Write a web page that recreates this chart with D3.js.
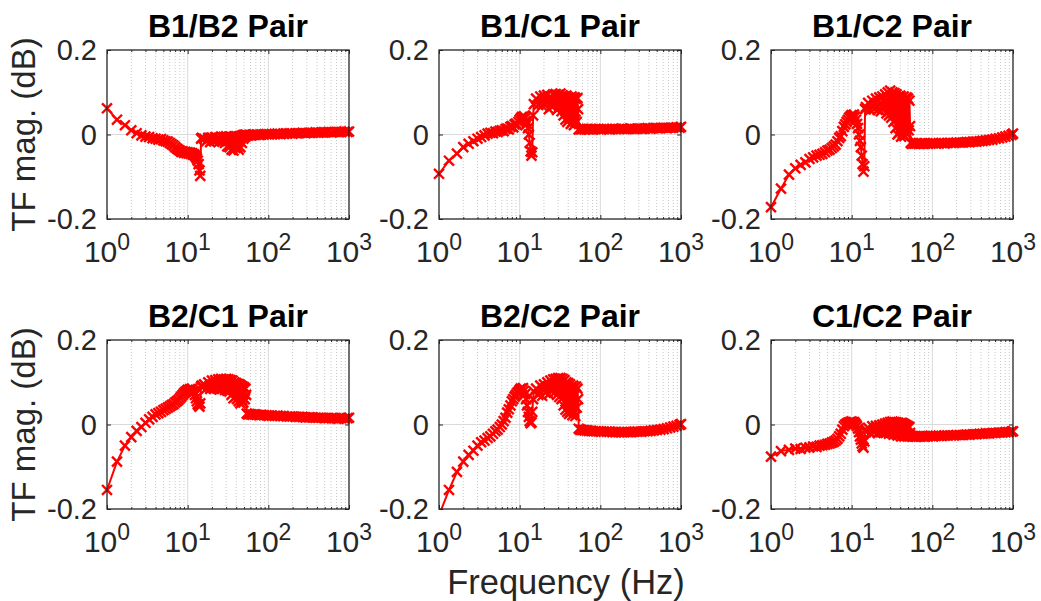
<!DOCTYPE html>
<html><head><meta charset="utf-8">
<script src="https://cdn.jsdelivr.net/npm/d3@7"></script>
<style>
body{margin:0;background:#fff}
svg{display:block}
text{font-family:"Liberation Sans",Arial,Helvetica,sans-serif}
</style>
</head><body>
<svg id="chart" width="1041" height="601"></svg>
<script>
// ---------------- data ----------------
const freqHz = [
  1,1.33,1.67,2,2.33,2.67,3,3.33,3.67,4,4.33,4.67,5,5.33,5.67,6,6.33,6.67,7,7.33,7.67,
  8,8.33,8.67,9,9.33,9.67,10,10.33,10.67,11,11.33,11.67,12,12.33,12.67,13,13.33,13.67,14,14.33,14.67,15,
  16,17,18,19,20,21,22,23,24,25,26,27,28,29,30,31,32,33,34,35,36,37,38,39,40,41,42,43,44,45,46,47,48,49,50,51,52,53,
  54,56,58,61,64,68,72,77,82,88,95,102,110,120,130,142,155,170,185,200,220,240,265,290,320,350,385,420,460,505,555,610,670,735,805,880,960,1000
];

const pairTitles = ["B1/B2 Pair","B1/C1 Pair","B1/C2 Pair","B2/C1 Pair","B2/C2 Pair","C1/C2 Pair"];

const magB1B2 = [
  0.062,0.035,0.022, 0.010,0.003,-0.002, -0.005,-0.006,-0.009, -0.010,-0.012,-0.011, -0.014,-0.016,-0.017,
  -0.020,-0.023,-0.026, -0.030,-0.033,-0.036, -0.038,-0.041,-0.040, -0.043,-0.041,-0.044, -0.042,-0.045,-0.043,
  -0.046,-0.044,-0.048, -0.047,-0.050,-0.053, -0.057,-0.062,-0.070, -0.085,-0.098,-0.010, -0.008,
  -0.010,-0.016,-0.008,-0.018,-0.007,-0.015,-0.006,-0.014,-0.008,-0.016,-0.005,-0.017,-0.006,-0.020,-0.004,-0.028,
  -0.006,-0.030,-0.005,-0.036,-0.008,-0.038,-0.006,-0.032,-0.004,-0.030,-0.006,-0.036,-0.004,-0.030,-0.003,-0.020,
  -0.002,-0.010,-0.001,-0.006,0.000,-0.003,
  -0.002,-0.002,-0.001,-0.002,-0.001,-0.001,0.000,-0.001,0.000,0.000,0.001,0.000,0.001,0.001,0.002,0.001,0.002,0.002,
  0.003,0.002,0.003,0.003,0.004,0.003,0.004,0.004,0.005,0.004,0.005,0.005,0.006,0.005,0.006,0.006,0.006,0.007,0.006,0.007
];
const magB1C1 = [
  -0.093,-0.062,-0.045, -0.030,-0.022,-0.016, -0.010,-0.006,-0.002, 0.002,0.004,0.003, 0.007,0.006,0.009,
  0.010,0.008,0.013, 0.014,0.012,0.018, 0.020,0.017,0.024, 0.026,0.022,0.030, 0.035,0.038,0.042,
  0.040,0.043,0.038, 0.032,0.025,0.015, 0.000,-0.020,-0.040, -0.050,-0.042,0.045, 0.072,
  0.085,0.070,0.090,0.068,0.092,0.072,0.094,0.060,0.090,0.066,0.095,0.070,0.096,0.058,0.094,0.065,
  0.097,0.055,0.093,0.045,0.090,0.035,0.092,0.030,0.088,0.040,0.085,0.025,0.090,0.030,0.086,0.022,
  0.088,0.035,0.084,0.030,0.086,0.060,
  0.012,0.013,0.012,0.013,0.012,0.013,0.012,0.013,0.012,0.013,0.013,0.012,0.013,0.013,0.012,0.013,0.013,0.013,
  0.014,0.013,0.013,0.014,0.013,0.014,0.014,0.014,0.015,0.014,0.015,0.015,0.015,0.016,0.015,0.016,0.016,0.017,0.016,0.018
];
const magB1C2 = [
  -0.172,-0.128,-0.095, -0.080,-0.072,-0.066, -0.058,-0.054,-0.050, -0.048,-0.046,-0.042, -0.038,-0.036,-0.032,
  -0.028,-0.024,-0.016, -0.008,-0.004,0.008, 0.018,0.024,0.030, 0.035,0.040,0.043, 0.046,0.044,0.047,
  0.042,0.035,0.025, 0.015,0.000,-0.015, -0.030,-0.050,-0.070, -0.088,-0.075,0.060, 0.065,
  0.075,0.058,0.080,0.060,0.085,0.058,0.088,0.055,0.090,0.062,0.095,0.050,0.100,0.045,0.104,0.040,
  0.100,0.030,0.098,0.015,0.095,0.000,0.090,0.005,0.092,-0.005,0.088,0.002,0.090,-0.004,0.085,0.005,
  0.088,0.000,0.085,0.010,0.080,0.020,
  -0.020,-0.022,-0.021,-0.022,-0.021,-0.022,-0.021,-0.022,-0.021,-0.022,-0.021,-0.021,-0.021,-0.021,-0.020,-0.021,-0.020,-0.020,
  -0.020,-0.019,-0.019,-0.019,-0.018,-0.018,-0.017,-0.017,-0.016,-0.015,-0.014,-0.013,-0.012,-0.010,-0.009,-0.007,-0.005,-0.003,-0.001,0.002
];
const magB2C1 = [
  -0.155,-0.088,-0.050, -0.030,-0.015,-0.006, 0.004,0.012,0.018, 0.024,0.027,0.030, 0.034,0.037,0.040,
  0.043,0.046,0.048, 0.052,0.055,0.058, 0.062,0.066,0.070, 0.074,0.077,0.079, 0.082,0.080,0.084,
  0.082,0.085,0.080, 0.078,0.070,0.062, 0.055,0.048,0.045, 0.042,0.050,0.090, 0.092,
  0.095,0.085,0.100,0.084,0.104,0.085,0.105,0.086,0.107,0.083,0.108,0.085,0.107,0.082,0.108,0.080,
  0.107,0.078,0.105,0.070,0.104,0.062,0.100,0.065,0.098,0.060,0.096,0.055,0.095,0.050,0.092,0.056,
  0.090,0.052,0.088,0.060,0.085,0.070,
  0.026,0.024,0.025,0.024,0.023,0.024,0.023,0.022,0.023,0.022,0.022,0.021,0.021,0.020,0.021,0.020,0.020,0.019,
  0.019,0.019,0.018,0.018,0.018,0.017,0.017,0.017,0.016,0.016,0.016,0.015,0.015,0.015,0.015,0.014,0.015,0.014,0.015,0.016
];
const magB2C2 = [
  -0.215,-0.155,-0.112, -0.088,-0.072,-0.062, -0.050,-0.042,-0.038, -0.032,-0.028,-0.022, -0.016,-0.012,-0.006,
  0.000,0.008,0.016, 0.028,0.036,0.045, 0.055,0.060,0.066, 0.070,0.075,0.078, 0.082,0.085,0.083,
  0.086,0.080,0.072, 0.060,0.045,0.030, 0.018,0.008,0.003, 0.005,0.030,0.060, 0.078,
  0.085,0.070,0.092,0.068,0.095,0.075,0.100,0.072,0.104,0.078,0.107,0.075,0.108,0.070,0.110,0.065,
  0.110,0.060,0.108,0.045,0.105,0.035,0.100,0.030,0.098,0.025,0.095,0.030,0.090,0.022,0.092,0.030,
  0.088,0.020,0.090,0.040,0.085,0.060,
  -0.010,-0.012,-0.013,-0.013,-0.014,-0.014,-0.015,-0.015,-0.016,-0.016,-0.016,-0.017,-0.017,-0.017,-0.017,-0.018,-0.018,-0.018,
  -0.018,-0.018,-0.018,-0.018,-0.017,-0.017,-0.017,-0.016,-0.016,-0.015,-0.014,-0.013,-0.012,-0.011,-0.009,-0.007,-0.005,-0.003,-0.001,0.001
];
const magC1C2 = [
  -0.076,-0.063,-0.060, -0.057,-0.058,-0.055, -0.054,-0.052,-0.053, -0.050,-0.049,-0.048, -0.046,-0.045,-0.043,
  -0.041,-0.038,-0.034, -0.028,-0.022,-0.012, -0.004,0.000,0.002, 0.004,0.005,0.006, 0.007,0.005,0.006,
  0.003,0.000,-0.004, -0.010,-0.018,-0.028, -0.036,-0.045,-0.052, -0.055,-0.040,-0.015, -0.012,
  -0.008,-0.020,-0.004,-0.018,-0.003,-0.020,-0.002,-0.018,0.000,-0.020,0.002,-0.018,0.004,-0.022,0.006,-0.020,
  0.007,-0.024,0.006,-0.022,0.005,-0.026,0.004,-0.024,0.003,-0.028,0.004,-0.025,0.002,-0.028,0.000,-0.026,
  -0.002,-0.028,-0.004,-0.026,-0.006,-0.020,
  -0.027,-0.028,-0.028,-0.028,-0.029,-0.028,-0.028,-0.028,-0.028,-0.028,-0.027,-0.028,-0.027,-0.027,-0.027,-0.026,-0.026,-0.026,
  -0.026,-0.025,-0.025,-0.025,-0.024,-0.024,-0.023,-0.023,-0.022,-0.022,-0.021,-0.021,-0.020,-0.020,-0.019,-0.019,-0.018,-0.018,-0.017,-0.016
];

const seriesList = [magB1B2, magB1C1, magB1C2, magB2C1, magB2C2, magC1C2];

const yTicks = [-0.2, 0, 0.2];
const yTickLabels = ["-0.2", "0", "0.2"];
const xTicks = [1, 10, 100, 1000];
const xTickExponents = ["0", "1", "2", "3"];
const xMinorTicks = [2,3,4,5,6,7,8,9,20,30,40,50,60,70,80,90,200,300,400,500,600,700,800,900];

// ---------------- layout ----------------
const svg = d3.select("#chart");
const W = 242, H = 169;
const lefts = [107, 439, 771];
const tops = [50, 340];
const axisColor = "#262626";

seriesList.forEach((vals, i) => {
  const col = i % 3, row = Math.floor(i / 3);
  const g = svg.append("g").attr("transform", `translate(${lefts[col]},${tops[row]})`);
  const x = d3.scaleLog().domain([1, 1000]).range([0, W]);
  const y = d3.scaleLinear().domain([-0.2, 0.2]).range([H, 0]);

  const clipId = "clip" + i;
  g.append("clipPath").attr("id", clipId)
    .append("rect").attr("x", 0).attr("y", 0).attr("width", W).attr("height", H);

  // minor grid (dotted)
  g.append("g").selectAll("line").data(xMinorTicks).join("line")
    .attr("x1", d => x(d)).attr("x2", d => x(d)).attr("y1", 0).attr("y2", H)
    .attr("stroke", "#b8b8b8").attr("stroke-width", 0.8).attr("stroke-dasharray", "1,2");

  // major grid
  g.append("g").selectAll("line").data(xTicks.slice(1, -1)).join("line")
    .attr("x1", d => x(d)).attr("x2", d => x(d)).attr("y1", 0).attr("y2", H)
    .attr("stroke", "#dadada").attr("stroke-width", 1);
  g.append("g").selectAll("line").data(yTicks.slice(1, -1)).join("line")
    .attr("x1", 0).attr("x2", W).attr("y1", d => y(d)).attr("y2", d => y(d))
    .attr("stroke", "#dadada").attr("stroke-width", 1);

  // axes ticks (inside) via d3 axes
  const axB = d3.axisBottom(x).tickValues(xTicks).tickSize(-4).tickFormat("");
  const axT = d3.axisTop(x).tickValues(xTicks).tickSize(-4).tickFormat("");
  const axBm = d3.axisBottom(x).tickValues(xMinorTicks).tickSize(-2).tickFormat("");
  const axTm = d3.axisTop(x).tickValues(xMinorTicks).tickSize(-2).tickFormat("");
  const axL = d3.axisLeft(y).tickValues(yTicks).tickSize(-4).tickFormat("");
  const axR = d3.axisRight(y).tickValues(yTicks).tickSize(-4).tickFormat("");
  [[axB, `translate(0,${H})`], [axT, null], [axBm, `translate(0,${H})`], [axTm, null],
   [axL, null], [axR, `translate(${W},0)`]].forEach(([ax, tr]) => {
    const a = g.append("g").call(ax);
    if (tr) a.attr("transform", tr);
    a.select(".domain").remove();
    a.selectAll("line").attr("stroke", axisColor).attr("stroke-width", 1);
  });

  // data line + markers
  const pts = freqHz.map((f, k) => ({ f: f, v: vals[k] }));
  g.append("path").datum(pts)
    .attr("clip-path", `url(#${clipId})`)
    .attr("d", d3.line().x(d => x(d.f)).y(d => y(d.v)))
    .attr("fill", "none").attr("stroke", "#ff0000").attr("stroke-width", 2)
    .attr("stroke-linejoin", "round");
  const sym = d3.symbol(d3.symbolX, 66);
  g.append("g").selectAll("path").data(pts.filter(d => d.v >= -0.2 && d.v <= 0.2)).join("path")
    .attr("transform", d => `translate(${x(d.f)},${y(d.v)})`)
    .attr("d", sym)
    .attr("fill", "none").attr("stroke", "#ff0000").attr("stroke-width", 2.4);

  // box
  g.append("rect").attr("x", 0).attr("y", 0).attr("width", W).attr("height", H)
    .attr("fill", "none").attr("stroke", axisColor).attr("stroke-width", 1.3);

  // y tick labels
  g.append("g").selectAll("text").data(yTicks).join("text")
    .attr("x", -10).attr("y", d => y(d)).attr("dy", "0.36em")
    .attr("text-anchor", "end").attr("font-size", 29).attr("fill", axisColor)
    .text((d, k) => yTickLabels[k]);

  // x tick labels with superscripts
  const xt = g.append("g").selectAll("text").data(xTicks).join("text")
    .attr("x", d => x(d)).attr("y", H + 43)
    .attr("text-anchor", "middle").attr("font-size", 30).attr("fill", axisColor);
  xt.append("tspan").text("10");
  xt.append("tspan").attr("font-size", 23).attr("dy", -12).text((d, k) => xTickExponents[k]);

  // title
  g.append("text").attr("x", W / 2).attr("y", -13)
    .attr("text-anchor", "middle").attr("font-size", 32).attr("font-weight", "bold")
    .attr("fill", "#000").text(pairTitles[i]);

  // y label on the first column
  if (col === 0) {
    g.append("text")
      .attr("transform", `translate(${35 - lefts[0]},${H / 2}) rotate(-90)`)
      .attr("text-anchor", "middle").attr("font-size", 33).attr("fill", axisColor)
      .text("TF mag. (dB)");
  }
  // x label under the middle bottom panel
  if (row === 1 && col === 1) {
    g.append("text").attr("x", W / 2 + 6).attr("y", H + 85)
      .attr("text-anchor", "middle").attr("font-size", 34.5).attr("fill", axisColor)
      .text("Frequency (Hz)");
  }
});
</script>
</body></html>
